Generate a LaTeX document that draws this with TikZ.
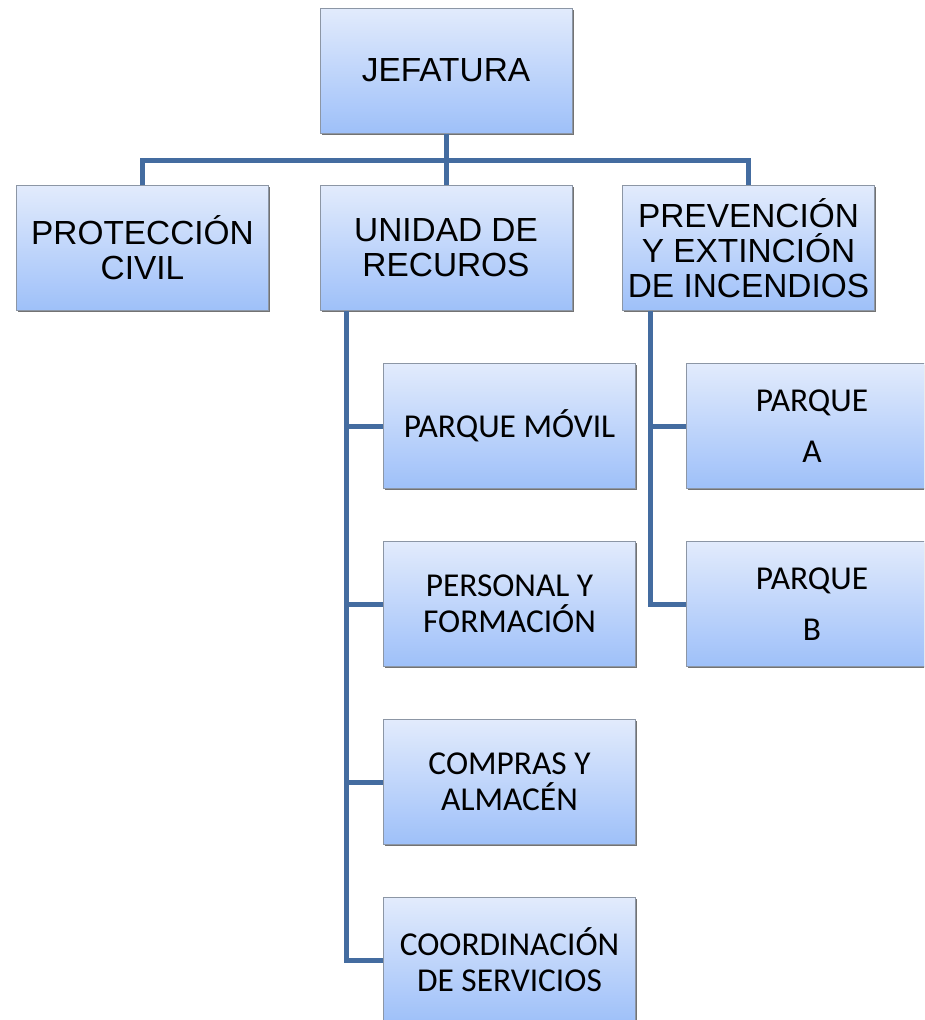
\documentclass[tikz,border=0pt]{standalone}
\usepackage{fontspec}
\setmainfont{Liberation Sans}
\newfontfamily\calibri{Carlito}
\usetikzlibrary{shadows}

\begin{document}
\begin{tikzpicture}
		[x=1pt,y=-1pt,line join=miter,
		 box/.style={draw=BoxLine,line width=1pt,top color=BoxTop,bottom color=BoxBottom,
		 	minimum width=252pt,minimum height=125pt,align=center,inner sep=0pt,
		 	drop shadow={shadow xshift=1.5pt,shadow yshift=-1.5pt,fill=black!55,opacity=1}},
		 headbox/.style={box,font=\fontsize{33.4}{35}\selectfont},
		 subbox/.style={box,font=\calibri\fontsize{33.4}{36}\selectfont},
		 link/.style={draw=LinkBlue,line width=5pt}]

        \definecolor{BoxTop}{RGB}{226, 235, 252}
        \definecolor{BoxBottom}{RGB}{158, 192, 249}
        \definecolor{BoxLine}{RGB}{140, 150, 165}
        \definecolor{LinkBlue}{RGB}{68, 108, 160}

        \clip (0,0) rectangle (924,1020);
        \useasboundingbox (0,0) rectangle (924,1020);

        \coordinate (bus) at (446,160);

        \node[headbox] (jef) at (446,70.5) {JEFATURA};
        \node[headbox] (prot) at (142.5,248) {PROTECCIÓN\\CIVIL};
        \node[headbox] (unid) at (446,248) {UNIDAD DE\\RECUROS};
        \node[headbox] (prev) at (748.5,248) {PREVENCIÓN\\Y EXTINCIÓN\\DE INCENDIOS};

        \node[subbox] (pmovil) at (509.5,426) {PARQUE MÓVIL};
        \node[subbox] (pers) at (509.5,604) {PERSONAL Y\\FORMACIÓN};
        \node[subbox] (comp) at (509.5,782) {COMPRAS Y\\ALMACÉN};
        \node[subbox] (coord) at (509.5,960) {COORDINACIÓN\\DE SERVICIOS};

        \node[subbox] (pa) at (812,426) {PARQUE\\[15pt]A};
        \node[subbox] (pb) at (812,604) {PARQUE\\[15pt]B};

        % connectors
        \draw[link] (jef.south) -- (bus);
        \draw[link] (prot.north) |- (bus) -| (prev.north);
        \draw[link] (bus) -- (unid.north);

        \foreach \n in {pmovil,pers,comp,coord}
            \draw[link] ([xshift=-100pt]unid.south) |- (\n.west);

        \foreach \n in {pa,pb}
            \draw[link] ([xshift=-98.5pt]prev.south) |- (\n.west);

    \end{tikzpicture}
\end{document}
